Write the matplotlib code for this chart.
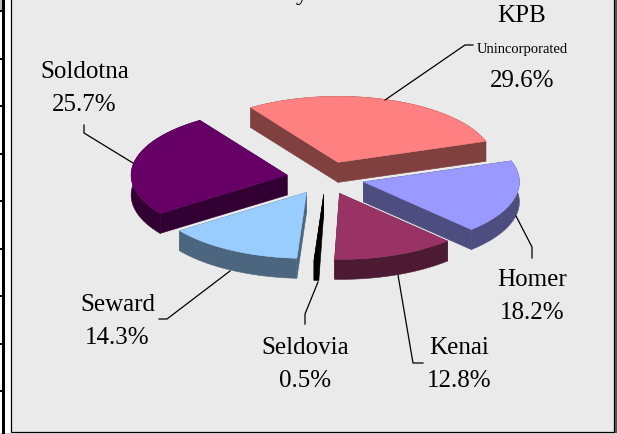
import numpy as np
import matplotlib
matplotlib.use("Agg")
import matplotlib.pyplot as plt
from matplotlib.patches import Polygon, Rectangle

plt.rcParams['font.family'] = ['Liberation Serif', 'DejaVu Serif']

# data
areas = ['Unincorporated', 'Homer', 'Kenai', 'Seldovia', 'Seward', 'Soldotna']
shares = [29.6, 18.2, 12.8, 0.5, 14.3, 25.7]
top_colors = ['#FF8080', '#9999FF', '#993366', '#000000', '#99CCFF', '#660066']
side_colors = ['#804040', '#4D4D80', '#4D1A33', '#000000', '#4D6680', '#330033']
tick_rows = [11, 59, 106, 154, 201, 249, 296, 344, 391]

# pie geometry, in pixels
cx, cy = 325.5, 178
rx, ry = 156, 66
depth = 20
explode = 0.25
start = -124

fig = plt.figure(figsize=(6.17, 4.34), dpi=100)
ax = fig.add_axes([0, 0, 1, 1])
ax.set_xlim(0, 617)
ax.set_ylim(434, 0)
ax.axis('off')

# frame and the bit of the neighbouring table on the left
ax.add_patch(Rectangle((10.5, -5), 603.5, 437, fc='#EAEAEA', ec='black', lw=0.9))
ax.add_patch(Rectangle((614.5, -5), 4, 445, fc='#555555', ec='none'))
ax.add_patch(Rectangle((0, 432.5), 617, 4, fc='#CCCCCC', ec='none'))
ax.add_patch(Rectangle((0, -1), 3, 11, fc='#BBBBBB', ec='none'))
ax.add_patch(Rectangle((2.2, -1), 2.8, 436, fc='black', ec='none'))
for y in tick_rows:
    ax.plot([0, 3], [y, y], color='black', lw=1.4, solid_capstyle='butt')

# slices
fractions = np.array(shares) / sum(shares)
edges = start + 360 * np.concatenate([[0], np.cumsum(fractions)])
slices = []
for i in range(len(areas)):
    t = np.radians(np.linspace(edges[i], edges[i + 1], 60))
    mid = np.radians((edges[i] + edges[i + 1]) / 2)
    ox = cx + explode * rx * np.cos(mid)
    oy = cy + explode * ry * np.sin(mid)
    xs = rx * np.cos(t) + ox
    ys = ry * np.sin(t) + oy
    slices.append((np.sin(mid), ox, oy, xs, ys, i))

# back to front
for _, ox, oy, xs, ys, i in sorted(slices, key=lambda s: s[0]):
    walls = [
        np.c_[np.r_[xs, xs[::-1]], np.r_[ys, ys[::-1] + depth]],
        [(ox, oy), (xs[0], ys[0]), (xs[0], ys[0] + depth), (ox, oy + depth)],
        [(ox, oy), (xs[-1], ys[-1]), (xs[-1], ys[-1] + depth), (ox, oy + depth)],
    ]
    for wall in walls:
        ax.add_patch(Polygon(wall, fc=side_colors[i], ec=side_colors[i], lw=0.4))
    ax.add_patch(Polygon(np.c_[np.r_[ox, xs], np.r_[oy, ys]], fc=top_colors[i], ec=top_colors[i], lw=0.3))

# leader lines
leaders = [
    [(385, 100), (465, 45), (473, 45)],
    [(516, 216), (532, 247), (532, 258)],
    [(398, 275), (413, 363), (423, 363)],
    [(318, 282), (305, 314), (305, 324)],
    [(230, 271), (167, 319), (159, 319)],
    [(133, 163), (84, 133), (84, 125)],
]
for pts in leaders:
    px, py = zip(*pts)
    ax.plot(px, py, color='black', lw=0.9)

# labels
big = 18
ax.text(205, 0, 'Parcels by Area Wide', fontsize=big, ha='left', va='baseline')
ax.text(522, 22, 'KPB', fontsize=big, ha='center', va='baseline')
ax.text(522.5, 53, areas[0], fontsize=10.5, ha='center', va='baseline')
ax.text(522, 87, f'{shares[0]}%', fontsize=big, ha='center', va='baseline')
label_pos = {'Homer': (532, 286, 319), 'Kenai': (459, 354, 387), 'Seldovia': (305, 354, 387),
             'Seward': (117.5, 311, 344), 'Soldotna': (84.5, 78, 111)}
for name, share in zip(areas[1:], shares[1:]):
    x, y1, y2 = label_pos[name]
    ax.text(x, y1, name, fontsize=big, ha='center', va='baseline')
    ax.text(x, y2, f'{share}%', fontsize=big, ha='center', va='baseline')

fig.savefig('out.png', dpi=100)
